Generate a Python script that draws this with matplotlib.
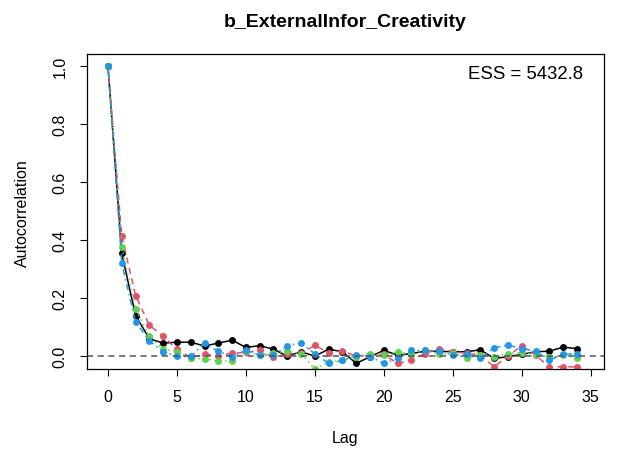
import numpy as np
import matplotlib.pyplot as plt

plt.rcParams['font.family'] = ['Liberation Sans', 'DejaVu Sans']

# Autocorrelation of each chain, lags 0..34
lags = np.arange(35)
chain1 = [1.0, 0.354, 0.140, 0.060, 0.045, 0.048, 0.048, 0.035, 0.045, 0.055,
          0.030, 0.036, 0.024, 0.000, 0.015, 0.000, 0.024, 0.015, -0.025, -0.002,
          0.020, 0.003, 0.009, 0.017, 0.017, 0.015, 0.015, 0.022, -0.008, -0.002,
          0.006, 0.015, 0.017, 0.031, 0.026]
chain2 = [1.0, 0.413, 0.209, 0.107, 0.068, 0.024, -0.005, 0.006, 0.002, 0.010,
          0.013, 0.020, -0.004, 0.008, 0.010, 0.037, 0.012, 0.018, 0.000, 0.004,
          0.006, -0.025, -0.014, 0.009, 0.026, 0.015, 0.010, 0.004, -0.037, 0.000,
          0.036, 0.003, -0.037, -0.037, -0.037]
chain3 = [1.0, 0.375, 0.162, 0.068, 0.024, 0.015, -0.008, -0.009, -0.017, -0.017,
          0.017, 0.004, 0.012, 0.017, 0.009, -0.045, -0.020, -0.014, -0.004, 0.009,
          0.004, 0.015, 0.006, 0.020, 0.008, 0.010, -0.008, 0.005, -0.002, 0.009,
          0.012, 0.006, -0.004, 0.004, -0.006]
chain4 = [1.0, 0.320, 0.118, 0.053, 0.015, -0.001, -0.001, 0.044, 0.017, -0.002,
          0.020, 0.003, 0.003, 0.036, 0.045, 0.008, -0.025, -0.015, 0.003, -0.002,
          -0.025, -0.008, 0.020, 0.020, 0.017, 0.003, 0.006, -0.008, 0.029, 0.038,
          0.026, 0.017, -0.014, 0.006, 0.009]

chains = [chain1, chain2, chain3, chain4]
colors = ['black', '#DF536B', '#61D04F', '#2297E6']
styles = ['-', (0, (4, 3)), (0, (1, 2.5)), (0, (1, 2.5, 4, 2.5))]

title = 'b_ExternalInfor_Creativity'
ess = 5432.8

fig = plt.figure(figsize=(6.18, 4.52), dpi=100)
ax = fig.add_axes([0.1408, 0.181, 0.836, 0.697])

for vals, col, ls in zip(chains, colors, styles):
    ax.plot(lags, vals, color=col, linestyle=ls, linewidth=1.1,
            marker='o', markersize=5, markeredgewidth=0)

ax.axhline(0, color='#555555', linestyle=(0, (4, 3)), linewidth=1.1)

ax.set_xlim(-1.52, 35.94)
ax.set_ylim(-0.045, 1.041)
ax.set_xticks(np.arange(0, 36, 5))
ax.set_yticks(np.arange(0, 1.01, 0.2))
ax.set_yticklabels(['0.0', '0.2', '0.4', '0.6', '0.8', '1.0'],
                   rotation=90, va='center')
ax.tick_params(direction='out', length=5, width=0.8, labelsize=11.5, pad=9)
for s in ax.spines.values():
    s.set_linewidth(0.9)

ax.set_xlabel('Lag', fontsize=11.5, labelpad=19)
ax.set_ylabel('Autocorrelation', fontsize=11.5, labelpad=16)
ax.set_title(title, fontsize=14, fontweight='bold', pad=20)
ax.text(0.96, 0.94, 'ESS = %.1f' % ess, transform=ax.transAxes,
        ha='right', va='center', fontsize=13.4)

fig.savefig('out.png', dpi=100)
